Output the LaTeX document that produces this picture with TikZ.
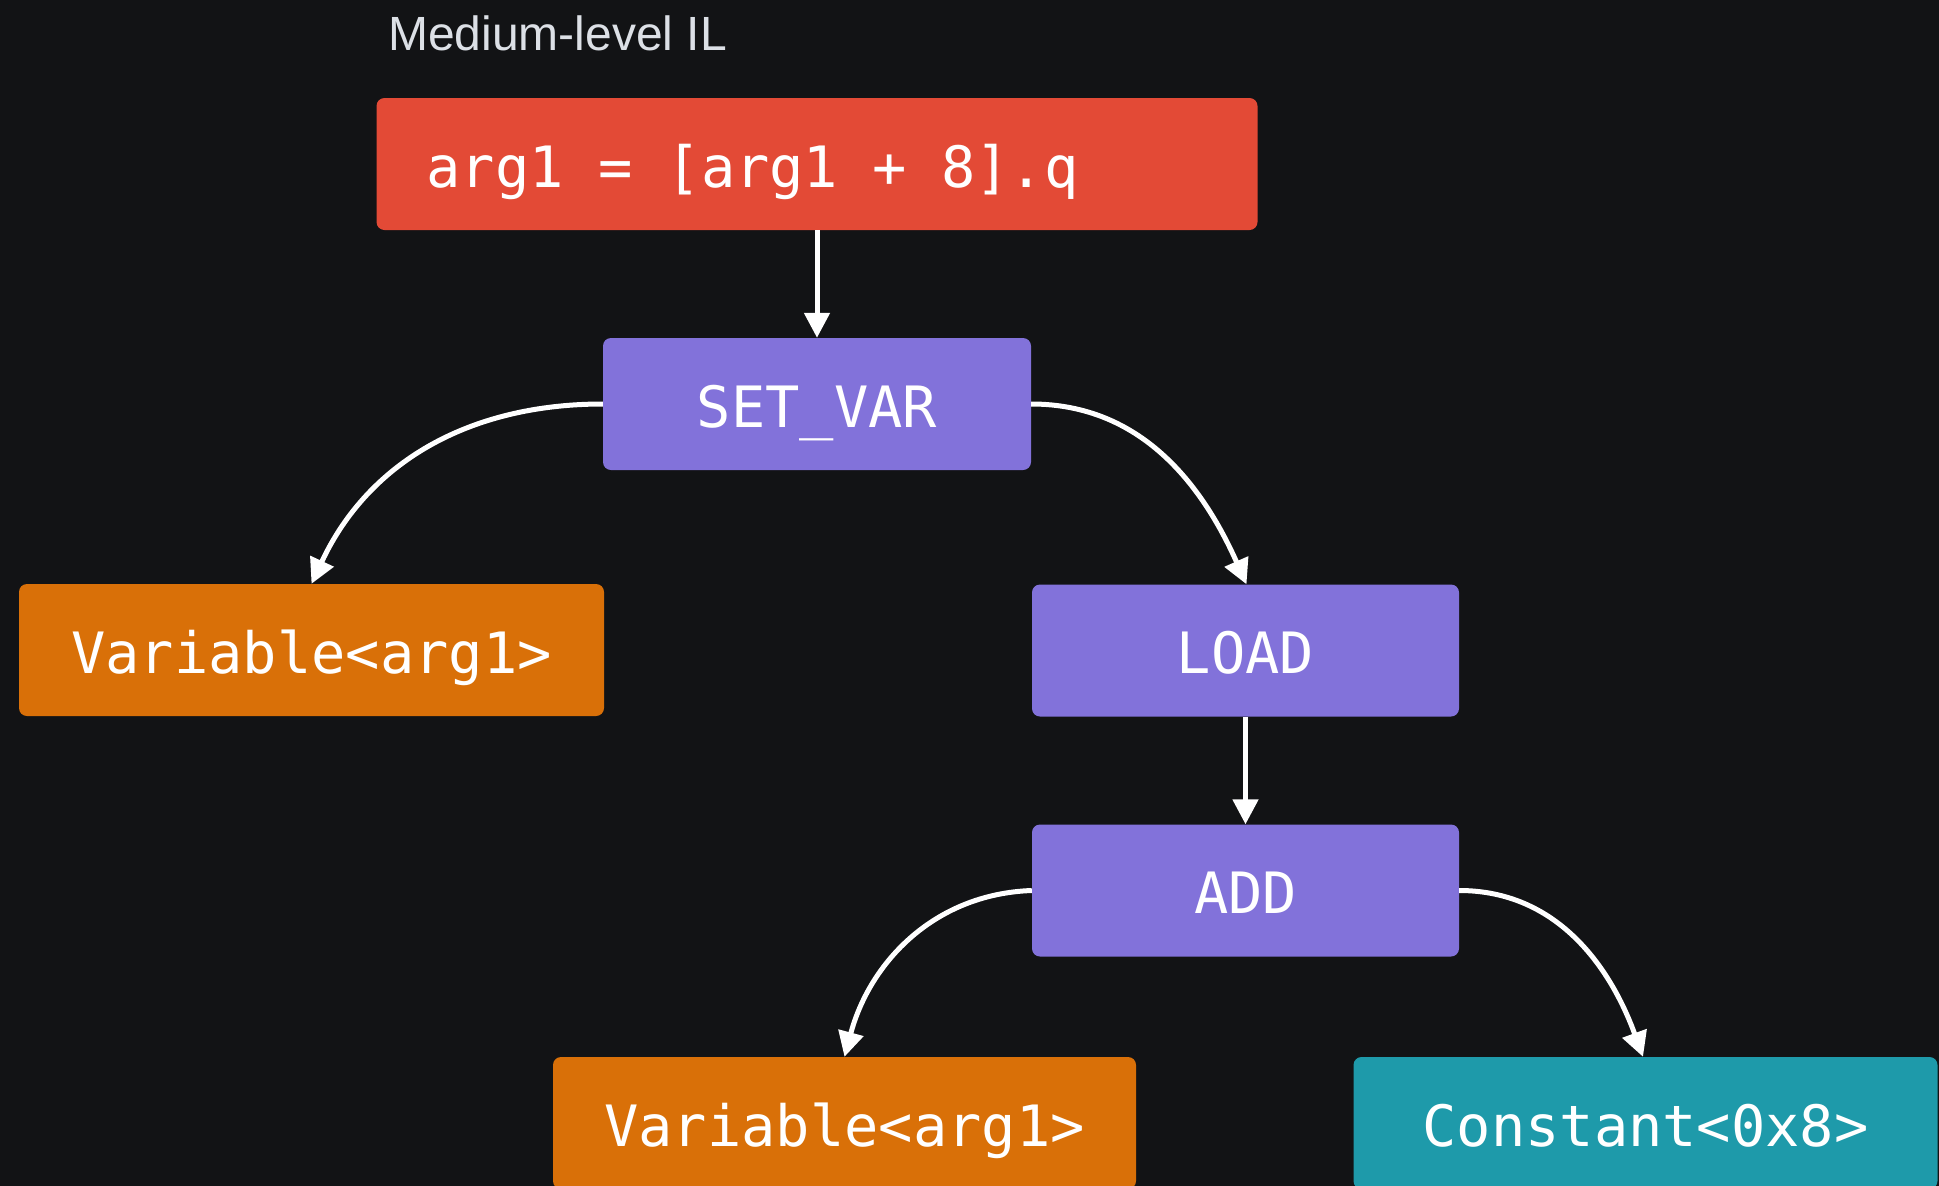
\documentclass[tikz,border=0pt]{standalone}
\usepackage{fontspec}
\setmainfont{Liberation Sans}
\newfontfamily\codefont{DejaVu Sans Mono}
\usetikzlibrary{arrows.meta}
\definecolor{bgc}{RGB}{18,19,21}
\definecolor{redc}{RGB}{227,74,54}
\definecolor{purc}{RGB}{130,114,218}
\definecolor{orac}{RGB}{217,112,8}
\definecolor{teac}{RGB}{30,154,170}
\definecolor{titc}{RGB}{220,224,230}
\newcommand\msp{\hspace*{0.602em}}
\begin{document}
\begin{tikzpicture}[x=1pt,y=1pt,
  box/.style={rectangle, rounded corners=8pt, inner sep=0pt, minimum height=132pt,
    text=white, font=\codefont\fontsize{57}{61}\selectfont, text height=46pt, text depth=0pt},
  link/.style={draw=white, line width=5pt, -{Triangle[width=25pt,length=25pt]}},
  title/.style={anchor=base west, text=titc, font=\fontsize{48}{56}\selectfont, inner sep=0pt}
]
\fill[bgc] (0,0) rectangle (1939,-1186);
\useasboundingbox (0,0) rectangle (1939,-1186);

\node[title] (ttl) at (388,-50) {Medium-level IL};

\node[box, fill=redc, minimum width=881pt, text width=781pt, align=left] (expr) at (817,-164) {arg1\msp=\msp[arg1\msp+\msp8].q};
\node[box, fill=purc, minimum width=428pt] (setvar) at (817,-404) {SET\_VAR};
\node[box, fill=orac, minimum width=585pt] (var1) at (311.5,-650) {Variable<arg1>};
\node[box, fill=purc, minimum width=427pt] (load) at (1245.5,-650.5) {LOAD};
\node[box, fill=purc, minimum width=427pt] (add) at (1245.5,-890.5) {ADD};
\node[box, fill=orac, minimum width=583pt] (var2) at (844.5,-1123) {Variable<arg1>};
\node[box, fill=teac, minimum width=584pt] (const) at (1645.5,-1123) {Constant<0x8>};

\draw[link] (expr.south) -- (setvar.north);
\draw[link] (setvar.west) to[out=180,in=65] (var1.north);
\draw[link] (setvar.east) to[out=0,in=114] ([xshift=1pt]load.north);
\draw[link] (load.south) -- (add.north);
\draw[link] (add.west) to[out=182,in=75] (var2.north);
\draw[link] (add.east) to[out=0,in=110] ([xshift=-2.5pt]const.north);
\end{tikzpicture}
\end{document}
